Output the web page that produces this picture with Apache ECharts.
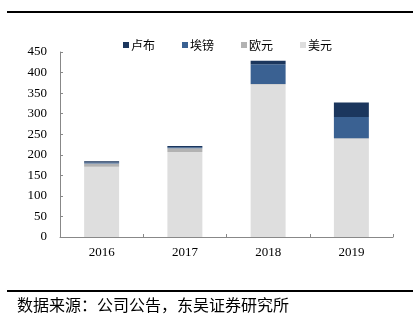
<!DOCTYPE html>
<html>
<head>
<meta charset="utf-8">
<script src="https://cdn.jsdelivr.net/npm/echarts@6/dist/echarts.min.js"></script>
<style>html,body{margin:0;padding:0;background:#fff}#c{width:419px;height:325px}</style>
</head>
<body>
<div id="c"></div>
<script>
var categories = ['2016', '2017', '2018', '2019'];
var seriesNames = ['卢布', '埃镑', '欧元', '美元'];
var usd = [171, 207, 371, 239];
var eur = [8, 9, 1, 1];
var egp = [2.5, 2.5, 48, 52];
var rub = [2.5, 3, 9, 35];
var yTicks = [0, 50, 100, 150, 200, 250, 300, 350, 400, 450];
var sourceText = '数据来源：公司公告，东吴证券研究所';

var colors = {'卢布': '#1b365d', '埃镑': '#3a6192', '欧元': '#b2b2b2', '美元': '#dedede'};
var dataMap = {'卢布': rub, '埃镑': egp, '欧元': eur, '美元': usd};
var stackOrder = ['美元', '欧元', '埃镑', '卢布'];

var chart = echarts.init(document.getElementById('c'), null, {renderer: 'canvas'});
chart.setOption({
  animation: false,
  backgroundColor: '#fff',
  legend: {
    data: seriesNames,
    top: 34,
    left: 118,
    itemWidth: 6,
    itemHeight: 6,
    itemGap: 27,
    icon: 'rect',
    textStyle: {fontFamily: 'Noto Sans CJK SC', fontSize: 12, color: '#000', padding: [0, 0, 0, -3]}
  },
  grid: {left: 60, right: 26, top: 52, bottom: 88},
  xAxis: {
    type: 'category',
    data: categories,
    axisLine: {lineStyle: {color: '#888', width: 1}},
    axisTick: {show: true, inside: true, length: 3, lineStyle: {color: '#888'}},
    axisLabel: {fontFamily: 'Liberation Serif', fontSize: 13, color: '#000', margin: 9}
  },
  yAxis: {
    type: 'value',
    min: yTicks[0],
    max: yTicks[yTicks.length - 1],
    interval: 50,
    splitLine: {show: false},
    axisLine: {show: true, lineStyle: {color: '#888', width: 1}},
    axisTick: {show: true, inside: true, length: 3, lineStyle: {color: '#888'}},
    axisLabel: {fontFamily: 'Liberation Serif', fontSize: 13, color: '#000', margin: 13}
  },
  graphic: [
    {type: 'rect', shape: {x: 7, y: 11, width: 406, height: 2}, style: {fill: '#000'}},
    {type: 'rect', shape: {x: 7, y: 290, width: 406, height: 2}, style: {fill: '#000'}},
    {type: 'text', left: 17, top: 297, style: {text: sourceText, fontFamily: 'Noto Sans CJK SC', fontSize: 16, fill: '#000'}}
  ],
  series: stackOrder.map(function (name) {
    return {
      name: name,
      type: 'bar',
      stack: 'total',
      barWidth: '42%',
      itemStyle: {color: colors[name]},
      data: dataMap[name]
    };
  })
});
</script>
</body>
</html>
